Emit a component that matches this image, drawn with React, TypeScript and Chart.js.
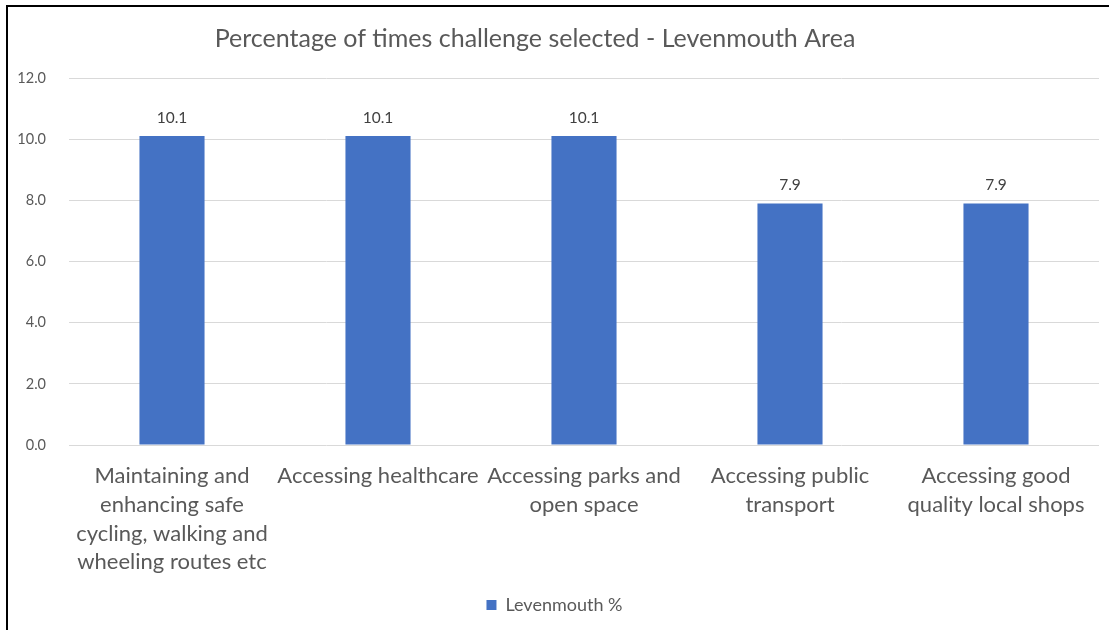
import React, { useEffect, useRef } from "react";
import { Chart, registerables } from "chart.js";

Chart.register(...registerables);

const TITLE = "Percentage of times challenge selected - Levenmouth Area";
const SERIES_LABEL = "Levenmouth %";
const CATEGORIES: (string | string[])[] = [
  ["Maintaining and", "enhancing safe", "cycling, walking and", "wheeling routes etc"],
  "Accessing healthcare",
  ["Accessing parks and", "open space"],
  ["Accessing public", "transport"],
  ["Accessing good", "quality local shops"],
];
const VALUES = [10.1, 10.1, 10.1, 7.9, 7.9];
const Y_MIN = 0;
const Y_MAX = 12;
const Y_STEP = 2;

const BAR_COLOR = "#4472C4";
const TEXT_COLOR = "#595959";
const FONT = "Lato, 'Open Sans', sans-serif";

const titlePlugin = {
  id: "customTitle",
  afterDraw(chart: any) {
    const ctx = chart.ctx;
    ctx.save();
    ctx.font = `25px ${FONT}`;
    ctx.fillStyle = TEXT_COLOR;
    ctx.textAlign = "center";
    ctx.textBaseline = "middle";
    ctx.fillText(TITLE, 535, 39);
    ctx.restore();
  },
};

const dataLabelPlugin = {
  id: "dataLabels",
  afterDatasetsDraw(chart: any) {
    const ctx = chart.ctx;
    ctx.save();
    ctx.font = `15.5px ${FONT}`;
    ctx.fillStyle = "#404040";
    ctx.textAlign = "center";
    ctx.textBaseline = "middle";
    const meta = chart.getDatasetMeta(0);
    meta.data.forEach((bar: any, i: number) => {
      ctx.fillText(VALUES[i].toFixed(1), bar.x, bar.y - 18);
    });
    ctx.restore();
  },
};

export default function App() {
  const ref = useRef<HTMLCanvasElement>(null);
  useEffect(() => {
    if (!ref.current) return;
    const chart = new Chart(ref.current, {
      type: "bar",
      data: {
        labels: CATEGORIES,
        datasets: [
          {
            label: SERIES_LABEL,
            data: VALUES,
            backgroundColor: BAR_COLOR,
            borderWidth: 0,
            barPercentage: 1,
            categoryPercentage: 0.316,
          },
        ],
      },
      options: {
        responsive: false,
        animation: false,
        layout: { padding: { left: 10, right: 10, top: 78, bottom: 6 } },
        plugins: {
          title: { display: false },
          tooltip: { enabled: false },
          legend: {
            position: "bottom",
            labels: {
              boxWidth: 10,
              boxHeight: 10,
              padding: 10,
              color: TEXT_COLOR,
              font: { family: FONT, size: 18 },
            },
          },
        },
        scales: {
          x: {
            grid: { display: false },
            border: { display: false },
            ticks: {
              color: TEXT_COLOR,
              font: { family: FONT, size: 22, lineHeight: 1.3 },
              padding: 9,
              maxRotation: 0,
              autoSkip: false,
            },
            afterFit: (s: any) => {
              s.height = 141;
            },
          },
          y: {
            min: Y_MIN,
            max: Y_MAX,
            grid: { color: "#d9d9d9", lineWidth: 1, drawTicks: false },
            border: { display: false },
            ticks: {
              stepSize: Y_STEP,
              color: TEXT_COLOR,
              font: { family: FONT, size: 14.5 },
              padding: 23,
              callback: (v: any) => Number(v).toFixed(1),
            },
            afterFit: (s: any) => {
              s.width = 59;
            },
          },
        },
      },
      plugins: [titlePlugin, dataLabelPlugin],
    });
    return () => chart.destroy();
  }, []);

  return (
    <div
      style={{
        position: "absolute",
        left: 0,
        top: 0,
        width: 1109,
        height: 630,
        background: "#fff",
        overflow: "hidden",
      }}
    >
      <canvas ref={ref} width={1109} height={630} style={{ width: 1109, height: 630, display: "block" }} />
      <div
        style={{
          position: "absolute",
          left: 6,
          top: 5,
          width: 1103,
          height: 625,
          borderTop: "2px solid #000",
          borderLeft: "2px solid #000",
          boxSizing: "border-box",
          pointerEvents: "none",
        }}
      />
    </div>
  );
}
